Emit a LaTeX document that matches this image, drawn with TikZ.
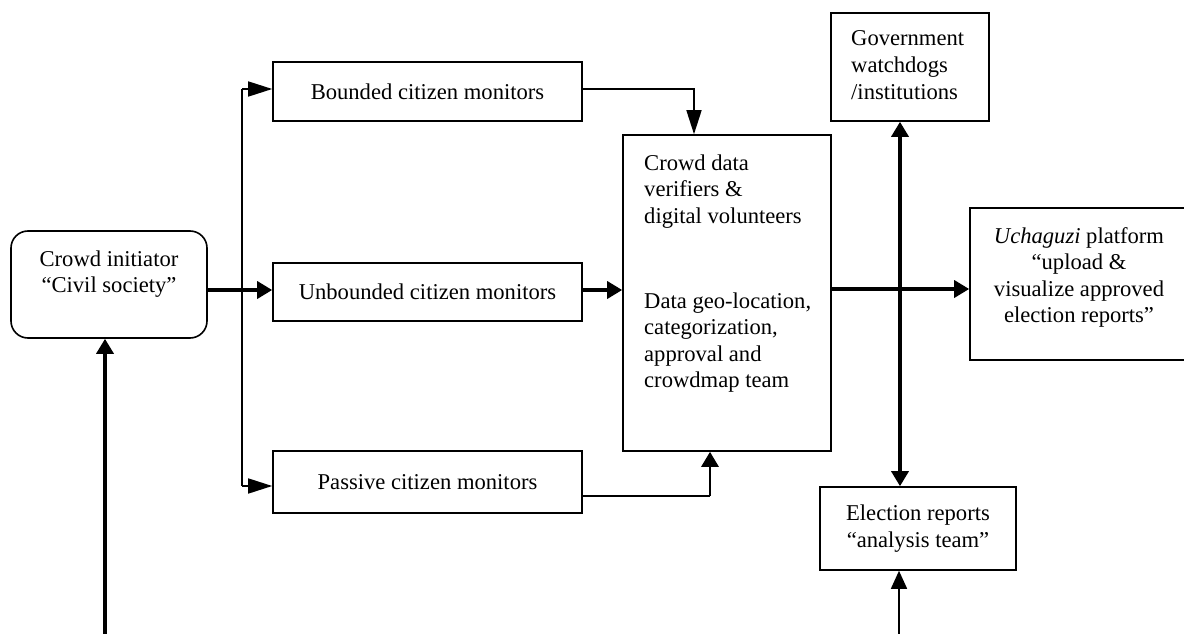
\documentclass[tikz,border=0pt]{standalone}
\usepackage{fontspec}
\setmainfont{Liberation Serif}
\usetikzlibrary{arrows.meta}
\begin{document}
\begin{tikzpicture}[x=1pt,y=-1pt,
  font=\fontsize{22.6}{26.6}\selectfont,
  box/.style={draw, line width=1.6pt, inner sep=0pt},
  txt/.style={inner sep=0pt},
  flow/.style={line width=1.6pt, -{Triangle[length=24pt,width=15pt]}},
  boldflow/.style={line width=3.4pt, -{Triangle[length=15pt,width=17pt]}},
  boldboth/.style={line width=3.4pt, {Triangle[length=15pt,width=17pt]}-{Triangle[length=15pt,width=17pt]}}
]
\useasboundingbox (0,0) rectangle (1184,634);

% boxes
\node[box, rounded corners=17pt, minimum width=196pt, minimum height=107pt] (init) at (109,284.5) {};
\node[txt, align=center] (initlabel) at (109,274) {Crowd initiator\\“Civil society”};

\node[box, minimum width=309pt, minimum height=59pt] (bounded) at (427.5,91.5) {Bounded citizen monitors};
\node[box, minimum width=309pt, minimum height=58pt] (unbounded) at (427.5,292) {Unbounded citizen monitors};
\node[box, minimum width=309pt, minimum height=62pt] (passive) at (427.5,482) {Passive citizen monitors};

\node[box, minimum width=208pt, minimum height=316pt] (crowd) at (727,293) {};
\node[txt, align=left, anchor=north west] (crowdlabel) at (644,154.5)
  {Crowd data\\verifiers \&\\digital volunteers\\[58pt]Data geo-location,\\categorization,\\approval and\\crowdmap team};

\node[box, minimum width=158pt, minimum height=108pt] (gov) at (910,67) {};
\node[txt, align=left, anchor=north west, font=\fontsize{22.6}{27.4}\selectfont] (govlabel) at (851,30) {Government\\watchdogs\\/institutions};

\node[box, minimum width=218pt, minimum height=152pt] (uch) at (1079,284) {};
\node[txt, align=center, anchor=north] (uchlabel) at (1079,227)
  {\textit{Uchaguzi} platform\\“upload \&\\visualize approved\\election reports”};

\node[box, align=center, minimum width=196pt, minimum height=83pt] (elec) at (918,528.5) {Election reports\\“analysis team”};

% branching trunk from the initiator to the three monitor groups
\coordinate (tTop) at (242,89);
\coordinate (tBot) at (242,486);
\draw[line width=1.6pt] (tTop) -- (tBot);
\draw[flow] (tTop) -- (tTop -| bounded.west);
\draw[flow] (tBot) -- (tBot -| passive.west);
\draw[boldflow] ([yshift=-5.5pt]init.east) -- ([yshift=-5.5pt]init.east -| unbounded.west);

% monitors to the verification team
\draw[flow] ([yshift=2.5pt]bounded.east) -| ([xshift=-33pt]crowd.north);
\draw[boldflow] ([yshift=2pt]unbounded.east) -- ([yshift=2pt]unbounded.east -| crowd.west);
\coordinate (pk) at (710,496);
\draw[line width=1.6pt] ([yshift=-14pt]passive.east) -- (pk);
\draw[boldflow, line width=2.8pt] (pk) -- (pk |- crowd.south);

% verified reports onward
\draw[boldflow] ([yshift=4pt]crowd.east) -- ([yshift=4pt]crowd.east -| uch.west);
\draw[boldboth] ([xshift=-10pt]gov.south) -- ([xshift=-10pt]gov.south |- elec.north);

% incoming lines from below
\coordinate (b1) at (105,640);
\coordinate (b2) at (899,640);
\draw[boldflow] (b1) -- (b1 |- init.south);
\draw[line width=1.6pt, -{Triangle[length=18pt,width=16pt]}] (b2) -- (b2 |- elec.south);
\end{tikzpicture}
\end{document}
